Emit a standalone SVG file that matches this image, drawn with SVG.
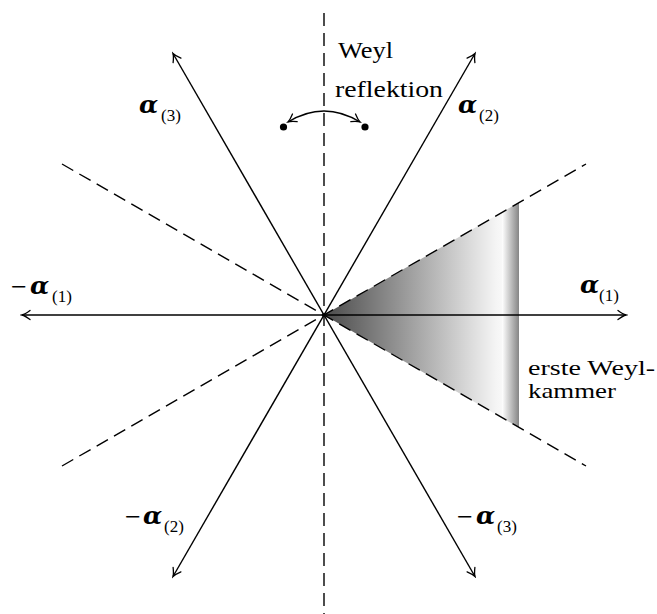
<svg xmlns="http://www.w3.org/2000/svg" width="657" height="614" viewBox="0 0 657 614">
<style>
.txt{font-family:"Liberation Serif","DejaVu Serif",serif;font-size:24px;fill:#000}
.k{font-size:22px}
.mi{font-size:28px}
.al{font-family:"DejaVu Serif",serif;font-weight:bold;font-style:italic;font-size:25px}
.sub{font-size:17px}
.solid{stroke:#000;stroke-width:1.4;fill:none}
.dash{stroke:#000;stroke-width:1.4;fill:none;stroke-dasharray:13 7}
</style>
<defs>
<marker id="ah" viewBox="-10 -6 12 12" markerWidth="12" markerHeight="12" refX="0" refY="0" orient="auto-start-reverse" markerUnits="userSpaceOnUse">
<path d="M -8,-4.5 Q -3,-0.8 0,0 Q -3,0.8 -8,4.5" fill="none" stroke="#000" stroke-width="1.3" stroke-linecap="round"/>
</marker>
<linearGradient id="sh" gradientUnits="userSpaceOnUse" x1="324" y1="0" x2="519" y2="0">
<stop offset="0" stop-color="#4a4a4a"/>
<stop offset="0.88" stop-color="#f4f4f4"/>
<stop offset="0.912" stop-color="#f8f8f8"/>
<stop offset="0.913" stop-color="#ffffff"/>
<stop offset="1" stop-color="#858585"/>
</linearGradient>
</defs>
<g id="kammer">
<polygon points="324,315 519,202.4 519,427.6" fill="url(#sh)"/>
</g>
<g id="connectors">
<line class="dash" x1="324" y1="13" x2="324" y2="614"/>
<line class="dash" x1="62" y1="164" x2="586" y2="466"/>
<line class="dash" x1="62" y1="466" x2="586" y2="164"/>
<line class="solid" x1="22" y1="315" x2="626" y2="315" marker-start="url(#ah)" marker-end="url(#ah)"/>
<line class="solid" x1="173" y1="576.5" x2="475" y2="53.5" marker-start="url(#ah)" marker-end="url(#ah)"/>
<line class="solid" x1="475" y1="576.5" x2="173" y2="53.5" marker-start="url(#ah)" marker-end="url(#ah)"/>
<path class="solid" d="M 288,122 Q 324,100 360,122" marker-start="url(#ah)" marker-end="url(#ah)"/>
<circle cx="283.5" cy="127" r="3.6" fill="#000"/>
<circle cx="365" cy="127" r="3.6" fill="#000"/>
</g>
<g id="label-weyl-reflektion">
<text class="txt" x="338" y="58" textLength="55" lengthAdjust="spacingAndGlyphs">Weyl</text>
<text class="txt" x="335" y="97" textLength="108" lengthAdjust="spacingAndGlyphs">reflektion</text>
</g>
<g id="label-kammer">
<text class="txt k" x="528" y="375" textLength="127" lengthAdjust="spacingAndGlyphs">erste Weyl-</text>
<text class="txt k" x="528" y="398" textLength="88" lengthAdjust="spacingAndGlyphs">kammer</text>
</g>
<g id="label-a1">
<text class="txt"><tspan class="al" x="580" y="293">α</tspan><tspan class="sub" x="599" y="301">(1)</tspan></text>
</g>
<g id="label-ma1">
<text class="txt"><tspan class="mi" x="11" y="296">−</tspan><tspan class="al" x="30" y="294">α</tspan><tspan class="sub" x="52" y="302">(1)</tspan></text>
</g>
<g id="label-a2">
<text class="txt"><tspan class="al" x="458" y="113">α</tspan><tspan class="sub" x="479" y="121">(2)</tspan></text>
</g>
<g id="label-a3">
<text class="txt"><tspan class="al" x="139" y="113">α</tspan><tspan class="sub" x="161" y="121">(3)</tspan></text>
</g>
<g id="label-ma2">
<text class="txt"><tspan class="mi" x="125" y="526">−</tspan><tspan class="al" x="143" y="524">α</tspan><tspan class="sub" x="164" y="532">(2)</tspan></text>
</g>
<g id="label-ma3">
<text class="txt"><tspan class="mi" x="457" y="526">−</tspan><tspan class="al" x="476" y="524">α</tspan><tspan class="sub" x="497" y="532">(3)</tspan></text>
</g>
</svg>
